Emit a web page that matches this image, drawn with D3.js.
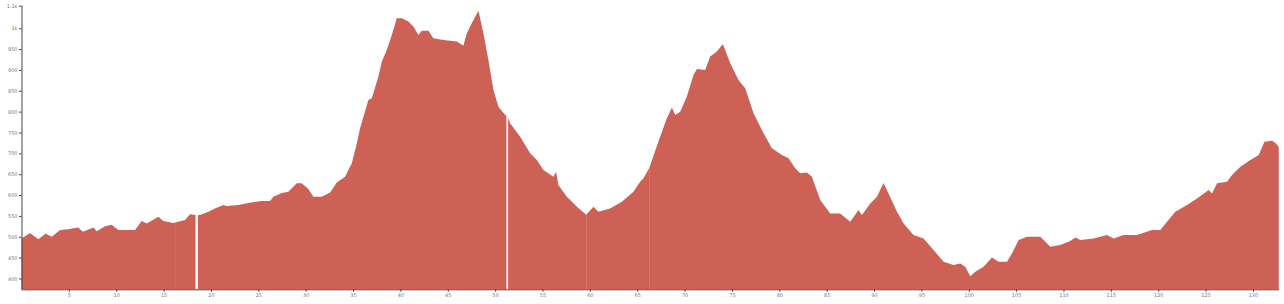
<!DOCTYPE html>
<html>
<head>
<meta charset="utf-8">
<script src="https://cdn.jsdelivr.net/npm/d3@7"></script>
<style>
  html, body { margin: 0; padding: 0; background: #fff; }
  svg { display: block; }
  .axis text { font-family: "DejaVu Sans", sans-serif; font-size: 5px; fill: #777; }
  .axis path, .axis line { stroke: #444; }
</style>
</head>
<body>
<svg id="chart" width="1284" height="304"></svg>
<script>
// distance along route (km)
const distanceKm = [
  0, 0.90, 1.77, 2.56, 3.19, 4.07, 4.91, 5.97, 6.49, 7.58, 7.94, 8.82, 9.52, 10.22, 11.99, 12.69, 13.22, 14.45, 14.97, 16.03,
  16.21, 17.27, 17.79, 18.37,
  18.62, 18.85, 19.73, 20.43, 21.31, 21.67, 22.89, 23.95, 25.36, 26.24, 26.59, 27.48, 28.17, 29.06, 29.59, 30.29, 30.81, 31.70,
  32.58, 33.28, 34.16, 34.87, 35.40, 35.74, 36.62, 36.98, 37.68, 38.04, 38.56, 39.09, 39.62, 40.15, 40.85, 41.37, 41.90, 42.26,
  42.96, 43.48, 44.54, 45.96, 46.65, 47.01, 47.71, 48.24, 48.76, 49.29, 49.82, 50.35, 51.06, 51.19,
  51.37, 51.58, 52.64, 53.70, 54.40, 55.10, 56.16, 56.44, 56.68, 57.57, 58.63, 59.61,
  60.38, 60.91, 62.14, 63.38, 64.60, 65.31, 65.66, 66.26,
  67.42, 68.13, 68.66, 69.01, 69.54, 70.24, 70.94, 71.30, 72.17, 72.70, 73.41, 74.04, 74.82, 75.69, 76.40, 77.28, 78.33, 79.22,
  80.27, 80.97, 81.68, 82.21, 82.91, 83.44, 84.32, 85.37, 86.43, 87.49, 88.36, 88.72, 89.60, 90.31, 91.00, 91.53, 92.42, 93.12,
  94.17, 95.23, 96.28, 97.34, 98.39, 99.10, 99.63, 100.16, 100.69, 101.56, 102.45, 103.15, 104.03, 104.56, 105.26, 106.15,
  107.55, 108.61, 109.66, 110.72, 111.25, 111.77, 113.18, 114.59, 115.29, 116.35, 117.76, 119.34, 120.22, 120.93, 121.80,
  123.04, 124.10, 125.32, 125.68, 126.21, 127.27, 127.79, 128.67, 129.73, 130.61, 131.21, 132.02, 132.37, 132.72
];
// elevation (m)
const elevationM = [
  496, 509, 494, 508, 500, 516, 518, 522, 512, 522, 513, 525, 529, 516, 516, 538, 532, 548, 538, 533,
  534, 540, 554, 552,
  552, 552, 560, 568, 576, 574, 576, 581, 586, 586, 596, 605, 608, 628, 628, 614, 596, 596,
  606, 630, 644, 676, 724, 760, 828, 832, 884, 920, 948, 984, 1024, 1024, 1016, 1004, 984, 994,
  994, 976, 972, 968, 958, 988, 1020, 1042, 988, 924, 852, 812, 792, 790,
  786, 772, 740, 700, 684, 660, 644, 656, 624, 596, 572, 553,
  572, 560, 568, 584, 608, 632, 640, 664,
  740, 784, 810, 792, 800, 836, 888, 902, 900, 932, 944, 962, 916, 876, 856, 796, 748, 712,
  696, 688, 664, 652, 654, 644, 588, 556, 556, 536, 564, 552, 580, 596, 629, 604, 560, 532,
  504, 496, 468, 440, 432, 436, 428, 405, 416, 428, 450, 440, 440, 460, 492, 500,
  500, 476, 480, 490, 498, 492, 496, 504, 496, 504, 504, 516, 516, 536, 560,
  576, 592, 612, 604, 628, 632, 648, 668, 684, 696, 728, 730, 725, 716
];
// area segments [start km, end km]
const segmentStart = [0, 16.21, 18.62, 51.37, 59.61, 66.26];
const segmentEnd   = [16.21, 18.37, 51.19, 59.61, 66.26, 132.72];

const xTickValues = [5, 10, 15, 20, 25, 30, 35, 40, 45, 50, 55, 60, 65, 70, 75, 80, 85, 90, 95, 100, 105, 110, 115, 120, 125, 130];
const yTickValues = [400, 450, 500, 550, 600, 650, 700, 750, 800, 850, 900, 950, 1000, 1054];
const yTickLabels = ["400", "450", "500", "550", "600", "650", "700", "750", "800", "850", "900", "950", "1k", "1.1k"];
const xDomain = [0, 132.75];
const yDomain = [374, 1054];

(function () {
  const svg = d3.select("#chart");
  const mLeft = 21.5, mRight = 1279, mTop = 5.7, mBottom = 289.3;

  const x = d3.scaleLinear().domain(xDomain).range([mLeft, mRight]);
  const y = d3.scaleLinear().domain(yDomain).range([mBottom, mTop]);

  const points = distanceKm.map((d, i) => ({ km: d, e: elevationM[i] }));

  const area = d3.area()
    .x(d => x(d.km))
    .y0(y(yDomain[0]))
    .y1(d => y(d.e));

  segmentStart.forEach((s, i) => {
    const seg = points.filter(p => p.km >= s && p.km <= segmentEnd[i]);
    svg.append("path")
      .datum(seg)
      .attr("d", area)
      .attr("fill", "#cd6155");
  });

  const xAxis = d3.axisBottom(x).tickValues(xTickValues).tickSize(2.5).tickPadding(2).tickFormat(d3.format("d"));
  svg.append("g").attr("class", "axis").attr("transform", `translate(0,${mBottom})`).call(xAxis)
    .call(g => g.select(".domain").attr("d", `M${mLeft},0.5H${mRight}`));

  const yAxis = d3.axisLeft(y).tickValues(yTickValues).tickSize(2.5).tickPadding(1.5)
    .tickFormat((d, i) => yTickLabels[i]);
  svg.append("g").attr("class", "axis").attr("transform", `translate(${mLeft},0)`).call(yAxis)
    .call(g => g.select(".domain").attr("d", `M0.5,${mTop}V${mBottom}`));
})();
</script>
</body>
</html>
